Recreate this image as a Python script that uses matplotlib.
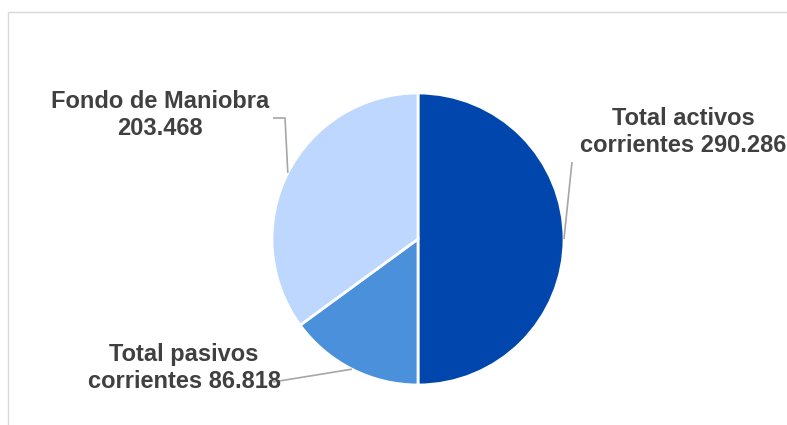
import numpy as np
import matplotlib
matplotlib.use("Agg")
import matplotlib.pyplot as plt
from matplotlib.patches import Rectangle

labels = ["Total activos\ncorrientes 290.286", "Total pasivos\ncorrientes 86.818", "Fondo de Maniobra\n203.468"]
values = [290.286, 86.818, 203.468]
colors = ["#0046AD", "#4A90DA", "#BDD7FE"]

W, H = 787, 425
fig = plt.figure(figsize=(W / 100, H / 100), dpi=100)
ax = fig.add_axes([0, 0, 1, 1])
ax.set_xlim(0, W)
ax.set_ylim(0, H)
ax.set_aspect("equal")
ax.axis("off")

# chart frame
ax.add_patch(Rectangle((8, -20), W + 20, H - 12 + 20, fill=False, edgecolor="#D9D9D9", linewidth=1.0))

cx, cy, r = 418, H - 239, 146
wedges, _ = ax.pie(values, colors=colors, startangle=90, counterclock=False,
                   center=(cx, cy), radius=r, frame=True,
                   wedgeprops=dict(edgecolor="white", linewidth=2))
ax.set_xlim(0, W)
ax.set_ylim(0, H)
ax.axis("off")

# label positions (pixel coords, y from top) and leader-line elbows
label_pos = [(683, 132), (184, 368), (160, 115)]
elbows = [None, None, (285, 118)]
line_ends = [(572, 162), (273, 382), (273, 118)]

for w, lab, (lx, ly), elbow, end in zip(wedges, labels, label_pos, elbows, line_ends):
    ang = np.deg2rad((w.theta1 + w.theta2) / 2)
    ax_x = cx + r * np.cos(ang)
    ax_y = cy + r * np.sin(ang)
    xs = [ax_x]
    ys = [ax_y]
    if elbow is not None:
        xs.append(elbow[0]); ys.append(H - elbow[1])
    xs.append(end[0]); ys.append(H - end[1])
    ax.plot(xs, ys, color="#A6A6A6", linewidth=1.2, solid_capstyle="butt")
    ax.text(lx, H - ly, lab, ha="center", va="center", fontsize=17,
            fontweight="bold", color="#404040", family="Liberation Sans",
            linespacing=1.2)

fig.savefig("out.png", dpi=100)
